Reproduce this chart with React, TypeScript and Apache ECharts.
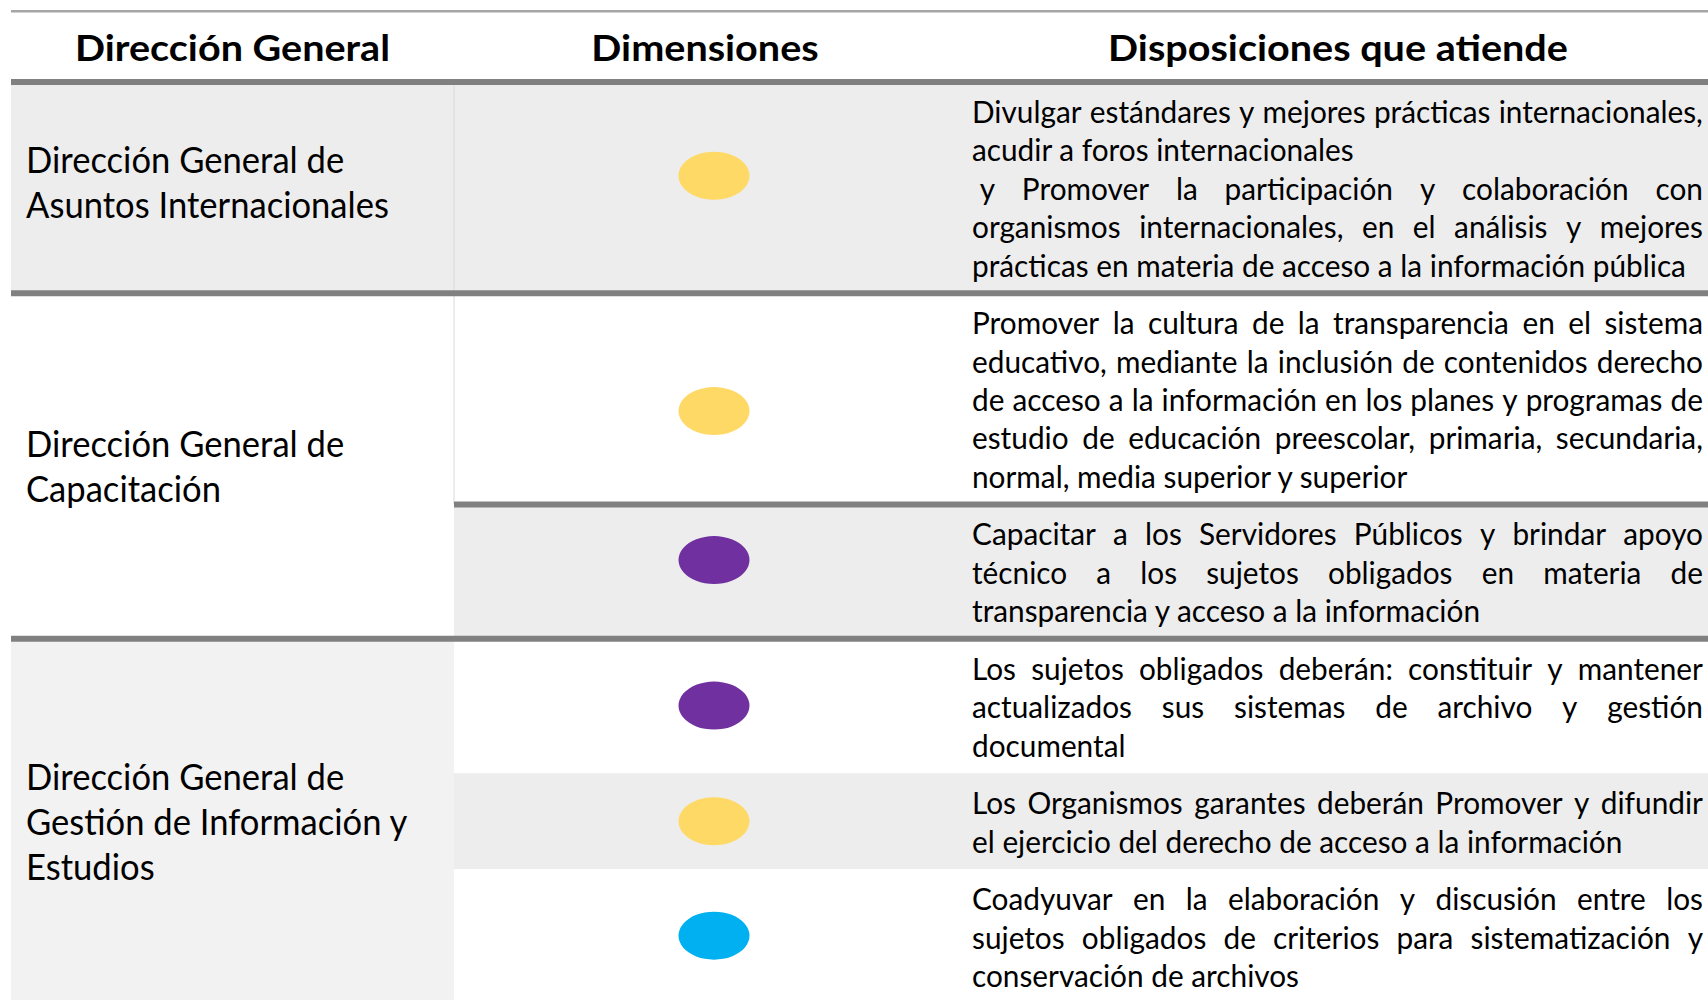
import React, { useEffect, useRef } from "react";
import * as echarts from "echarts";

// ---------- data ----------
const HEADERS = ["Dirección General", "Dimensiones", "Disposiciones que atiende"];

const DIRECTIONS: string[][] = [
  ["Dirección General de", "Asuntos Internacionales"],
  ["Dirección General de", "Capacitación"],
  ["Dirección General de", "Gestión de Información y", "Estudios"],
];

// which direction each disposition row belongs to
const ROW_DIRECTION = [0, 1, 1, 2, 2, 2];

// dimension attended by each row (shown as a coloured dot)
const ROW_DIMENSION = ["amarillo", "amarillo", "morado", "morado", "amarillo", "azul"];

const ROW_TEXT: string[][] = [
  [
    "Divulgar estándares y mejores prácticas internacionales,",
    "acudir a foros internacionales",
    " y Promover la participación y colaboración con",
    "organismos internacionales, en el análisis y mejores",
    "prácticas en materia de acceso a la información pública",
  ],
  [
    "Promover la cultura de la transparencia en el sistema",
    "educativo, mediante la inclusión de contenidos derecho",
    "de acceso a la información en los planes y programas de",
    "estudio de educación preescolar, primaria, secundaria,",
    "normal, media superior y superior",
  ],
  [
    "Capacitar a los Servidores Públicos y brindar apoyo",
    "técnico a los sujetos obligados en materia de",
    "transparencia y acceso a la información",
  ],
  [
    "Los sujetos obligados deberán: constituir y mantener",
    "actualizados sus sistemas de archivo y gestión",
    "documental",
  ],
  [
    "Los Organismos garantes deberán Promover y difundir",
    "el ejercicio del derecho de acceso a la información",
  ],
  [
    "Coadyuvar en la elaboración y discusión entre los",
    "sujetos obligados de criterios para sistematización  y",
    "conservación de archivos",
  ],
];

// lines that end a paragraph (not justified)
const PARAGRAPH_ENDS: number[][] = [[1, 4], [4], [2], [2], [1], [2]];

// ---------- layout / style ----------
const W = 1708;
const H = 1000;
const TABLE_LEFT = 11;
const COL1_RIGHT = 454;
const COL3_LEFT = 972;
const COL3_RIGHT = 1703;
const COL2_CENTER = (COL1_RIGHT + COL3_LEFT) / 2 + 1;
const HEADER_CENTERS = [232.5, 705, 1338];
const HEADER_Y = 47;
const TOP_RULE_Y = 11.3;
const HEADER_RULE_Y = 82;
const LINE_UNIT = 38.4;
const ROW_PAD = 0.5;
const DIR_LINE_PX = 45;
const DIR_TEXT_NUDGE = [-6, 0, 0.5];
const DOT_NUDGE = [-0.31, 0.32, -0.3, -0.01, 0, -0.02];
const DOT_SIZE = [71, 48];

const FONT = "Lato";
const BODY_SIZE = 31;
const LEFT_SIZE = 36;
const HEAD_SIZE = 36;

const DIMENSION_COLOR: Record<string, string> = {
  amarillo: "#FFD966",
  morado: "#7030A0",
  azul: "#00B0F0",
};
const ROW_BG = ["#ededed", "#ffffff", "#ededed", "#ffffff", "#ededed", "#ffffff"];
const DIRECTION_BG = ["#ededed", "#ffffff", "#f2f2f2"];
const RULE_AFTER = ["full", "partial", "full", "", "", ""];
const RULE_COLOR = "#808080";

// row spans in line units
const rowSpans: number[][] = [];
{
  let acc = 0;
  ROW_TEXT.forEach((lines) => {
    const h = lines.length + ROW_PAD;
    rowSpans.push([acc, acc + h]);
    acc += h;
  });
}
// units visible between the header rule and the bottom of the page
const VISIBLE_UNITS = (H - HEADER_RULE_Y) / LINE_UNIT;
const dirSpans = DIRECTIONS.map((_, g) => {
  const idx = ROW_DIRECTION.map((d, i) => (d === g ? i : -1)).filter((i) => i >= 0);
  return [rowSpans[idx[0]][0], rowSpans[idx[idx.length - 1]][1]];
});

// ---------- text measuring ----------
const canvas = typeof document !== "undefined" ? document.createElement("canvas") : null;
const ctx = canvas ? canvas.getContext("2d") : null;
function measure(text: string, size: number, weight = "normal"): number {
  if (!ctx) return text.length * size * 0.5;
  ctx.font = `${weight} ${size}px ${FONT}`;
  return ctx.measureText(text).width;
}

export default function App() {
  const ref = useRef<HTMLDivElement>(null);

  useEffect(() => {
    document.body.style.margin = "0";
    if (!ref.current) return;
    const chart = echarts.init(ref.current, null, { renderer: "svg" });

    const bodyScale = 509.8 / measure("transparencia y acceso a la información", BODY_SIZE);
    const leftScale = 363 / measure("Asuntos Internacionales", LEFT_SIZE);
    const headScale = 460 / measure("Disposiciones que atiende", HEAD_SIZE, "bold");

    const textEl = (text: string, x: number, y: number, size: number, scale: number, align = "left", weight = "normal") => ({
      type: "text",
      x,
      y,
      scaleX: scale,
      style: {
        text,
        fill: "#000000",
        fontFamily: FONT,
        fontSize: size,
        fontWeight: weight,
        align,
        verticalAlign: "middle",
        textAlign: align,
        textVerticalAlign: "middle",
      },
    });

    const option: any = {
      animation: false,
      grid: { left: 0, right: 0, top: HEADER_RULE_Y, bottom: 0, containLabel: false },
      xAxis: { type: "value", min: 0, max: W, show: false },
      yAxis: { type: "value", min: 0, max: VISIBLE_UNITS, inverse: true, show: false },
      graphic: [
        {
          type: "line",
          shape: { x1: TABLE_LEFT, y1: TOP_RULE_Y, x2: W, y2: TOP_RULE_Y },
          style: { stroke: "#a6a6a6", lineWidth: 2.5 },
          z: 10,
        },
        {
          type: "line",
          shape: { x1: TABLE_LEFT, y1: HEADER_RULE_Y, x2: W, y2: HEADER_RULE_Y },
          style: { stroke: RULE_COLOR, lineWidth: 6 },
          z: 10,
        },
        ...HEADERS.map((h, i) => ({
          ...textEl(h, HEADER_CENTERS[i], HEADER_Y, HEAD_SIZE, headScale, "center", "bold"),
          z: 10,
        })),
      ],
      series: [
        {
          type: "custom",
          name: "direcciones",
          z: 1,
          clip: false,
          data: DIRECTIONS.map((_, g) => [g, dirSpans[g][0], dirSpans[g][1]]),
          renderItem: (_p: any, api: any) => {
            const g = api.value(0);
            const y0 = api.coord([0, api.value(1)])[1];
            const y1 = api.coord([0, api.value(2)])[1];
            const lines = DIRECTIONS[g];
            const step = DIR_LINE_PX;
            const mid = (y0 + y1) / 2 + DIR_TEXT_NUDGE[g];
            const first = mid - ((lines.length - 1) * step) / 2;
            return {
              type: "group",
              children: [
                {
                  type: "rect",
                  shape: { x: TABLE_LEFT, y: y0, width: COL1_RIGHT - TABLE_LEFT, height: y1 - y0 },
                  style: { fill: DIRECTION_BG[g] },
                },
                ...lines.map((l, k) => textEl(l, TABLE_LEFT + 15, first + k * step, LEFT_SIZE, leftScale)),
              ],
            };
          },
        },
        {
          type: "custom",
          name: "disposiciones",
          z: 1,
          clip: false,
          data: ROW_TEXT.map((_, i) => [i, rowSpans[i][0], rowSpans[i][1]]),
          renderItem: (_p: any, api: any) => {
            const i = api.value(0);
            const y0 = api.coord([0, api.value(1)])[1];
            const y1 = api.coord([0, api.value(2)])[1];
            const children: any[] = [
              {
                type: "rect",
                shape: { x: COL1_RIGHT, y: y0, width: W - COL1_RIGHT, height: y1 - y0 },
                style: { fill: ROW_BG[i] },
              },
            ];
            if (ROW_BG[i] === DIRECTION_BG[ROW_DIRECTION[i]]) {
              children.push({
                type: "line",
                shape: { x1: COL1_RIGHT, y1: y0, x2: COL1_RIGHT, y2: y1 },
                style: { stroke: "#d9d9d9", lineWidth: 1 },
              });
            }
            const lines = ROW_TEXT[i];
            const firstUnit = api.value(1) + ROW_PAD / 2 + 0.5;
            const spaceW = measure(" ", BODY_SIZE) * bodyScale;
            lines.forEach((line, k) => {
              const y = api.coord([0, firstUnit + k])[1];
              const lead = line.startsWith(" ") ? spaceW : 0;
              if (PARAGRAPH_ENDS[i].includes(k)) {
                children.push(textEl(line.trim(), COL3_LEFT + lead, y, BODY_SIZE, bodyScale));
                return;
              }
              const words = line.trim().split(/\s+/);
              const widths = words.map((w) => measure(w, BODY_SIZE) * bodyScale);
              const sum = widths.reduce((a, b) => a + b, 0);
              const gap = words.length > 1 ? (COL3_RIGHT - COL3_LEFT - lead - sum) / (words.length - 1) : 0;
              let x = COL3_LEFT + lead;
              words.forEach((w, j) => {
                children.push(textEl(w, x, y, BODY_SIZE, bodyScale));
                x += widths[j] + gap;
              });
            });
            return { type: "group", children };
          },
        },
        {
          type: "custom",
          name: "reglas",
          z: 3,
          clip: false,
          data: RULE_AFTER.map((r, i) => [i, rowSpans[i][1], r === "full" ? 1 : r === "partial" ? 2 : 0]),
          renderItem: (_p: any, api: any) => {
            const kind = api.value(2);
            if (!kind) return { type: "group", children: [] };
            const y = api.coord([0, api.value(1)])[1];
            return {
              type: "line",
              shape: { x1: kind === 1 ? TABLE_LEFT : COL1_RIGHT, y1: y, x2: W, y2: y },
              style: { stroke: RULE_COLOR, lineWidth: 6 },
            };
          },
        },
        {
          type: "scatter",
          name: "dimensiones",
          z: 4,
          clip: false,
          symbol: "circle",
          symbolSize: DOT_SIZE,
          itemStyle: { opacity: 1 },
          data: ROW_DIMENSION.map((d, i) => ({
            value: [COL2_CENTER, (rowSpans[i][0] + rowSpans[i][1]) / 2 + DOT_NUDGE[i]],
            itemStyle: { color: DIMENSION_COLOR[d], opacity: 1 },
          })),
        },
      ],
    };

    chart.setOption(option);
    return () => chart.dispose();
  }, []);

  return (
    <div
      ref={ref}
      style={{ position: "absolute", left: 0, top: 0, width: W, height: H, background: "#ffffff" }}
    />
  );
}
